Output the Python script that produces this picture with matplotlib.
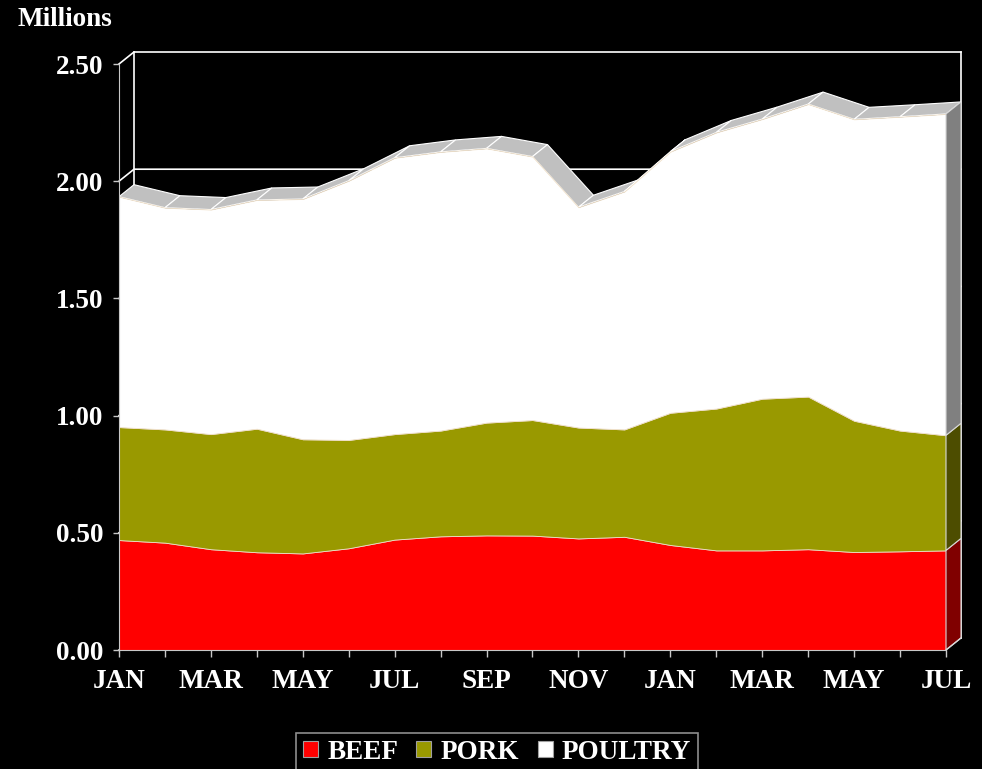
import matplotlib
matplotlib.use("Agg")
import matplotlib.pyplot as plt
from matplotlib.patches import Polygon, Patch
import numpy as np

months = ["JAN", "FEB", "MAR", "APR", "MAY", "JUN", "JUL", "AUG", "SEP", "OCT",
          "NOV", "DEC", "JAN", "FEB", "MAR", "APR", "MAY", "JUN", "JUL"]
beef = [0.469, 0.458, 0.430, 0.417, 0.412, 0.434, 0.471, 0.485, 0.489, 0.488,
        0.476, 0.483, 0.448, 0.425, 0.425, 0.430, 0.418, 0.421, 0.425]
pork_top = [0.951, 0.941, 0.921, 0.944, 0.899, 0.896, 0.921, 0.936, 0.970, 0.981,
            0.949, 0.941, 1.012, 1.030, 1.072, 1.081, 0.978, 0.936, 0.916]
poultry_top = [1.934, 1.887, 1.879, 1.920, 1.924, 2.002, 2.100, 2.125, 2.140, 2.105,
               1.889, 1.956, 2.126, 2.208, 2.265, 2.329, 2.264, 2.275, 2.287]
pork = [p - b for p, b in zip(pork_top, beef)]
poultry = [q - p for q, p in zip(poultry_top, pork_top)]
yticks = [0.0, 0.5, 1.0, 1.5, 2.0, 2.5]
series_names = ["BEEF", "PORK", "POULTRY"]
front_colors = ["#FF0000", "#999900", "#FFFFFF"]
side_colors = ["#800000", "#4D4D00", "#808080"]
top_color = "#C0C0C0"

plt.rcParams['font.family'] = ['Liberation Serif', 'DejaVu Serif']
plt.rcParams['font.weight'] = 'bold'

W, H = 982, 769
fig = plt.figure(figsize=(W / 100, H / 100), dpi=100, facecolor="black")
px_x = 45.944   # pixels per month
px_y = 234.4    # pixels per unit
left_px, bottom_px, right_px, top_px = 119, 650, 975, 40
ax = fig.add_axes([left_px / W, (H - bottom_px) / H,
                   (right_px - left_px) / W, (bottom_px - top_px) / H])
ax.set_facecolor("black")
ax.set_xlim(0, (right_px - left_px) / px_x)
ax.set_ylim(0, (bottom_px - top_px) / px_y)

dx = 15 / px_x
dy = 12 / px_y
x = np.arange(len(months))
n = len(months) - 1

# back wall gridlines and side gridlines
for v in yticks:
    ax.plot([0, dx, n + dx], [v, v + dy, v + dy], color="white", lw=1.2, zorder=1,
            clip_on=False)
ax.plot([dx, dx], [dy, 2.5 + dy], color="white", lw=1.2, zorder=1, clip_on=False)
ax.plot([n + dx, n + dx], [dy, 2.5 + dy], color="white", lw=1.2, zorder=1, clip_on=False)

# top faces of the upper series
top = np.array(poultry_top)
for i in range(n):
    poly = Polygon([[x[i], top[i]], [x[i + 1], top[i + 1]],
                    [x[i + 1] + dx, top[i + 1] + dy], [x[i] + dx, top[i] + dy]],
                   closed=True, facecolor=top_color, edgecolor="white", lw=0.8,
                   zorder=2)
    ax.add_patch(poly)

# front areas
ax.stackplot(x, beef, pork, poultry, colors=front_colors, zorder=3,
             edgecolor="#F0E0C8", linewidth=0.6)

# right side faces
levels = [0.0, beef[-1], pork_top[-1], poultry_top[-1]]
for k in range(3):
    lo, hi = levels[k], levels[k + 1]
    poly = Polygon([[n, lo], [n, hi], [n + dx, hi + dy], [n + dx, lo + dy]],
                   closed=True, facecolor=side_colors[k], edgecolor="#D8D8D8",
                   lw=0.8, zorder=4, clip_on=False)
    ax.add_patch(poly)
# floor edge at right
ax.plot([n, n + dx], [0, dy], color="#D8D8D8", lw=1, zorder=5, clip_on=False)

# axes / spines
for s in ["top", "right"]:
    ax.spines[s].set_visible(False)
ax.spines["left"].set_bounds(0, 2.5)
ax.spines["bottom"].set_bounds(0, n)
ax.spines["left"].set_color("#C8C8C8")
ax.spines["bottom"].set_color("#C8C8C8")
ax.spines["left"].set_zorder(6)
ax.spines["bottom"].set_zorder(6)

ax.set_yticks(yticks)
ax.set_yticklabels([f"{v:.2f}" for v in yticks])
ax.set_xticks(x)
ax.set_xticklabels([m if i % 2 == 0 else "" for i, m in enumerate(months)])
ax.tick_params(axis="y", colors="#C8C8C8", labelcolor="white", length=4.5,
               width=1, pad=6.7, labelsize=19.5)
ax.tick_params(axis="x", colors="#C8C8C8", labelcolor="white", length=5,
               width=1, pad=9, labelsize=19.5)
for lab in ax.get_xticklabels() + ax.get_yticklabels():
    lab.set_fontweight("bold")

fig.text(17 / W, 1 - 20 / H, "Millions", color="white", fontsize=19.5,
         fontweight="bold", ha="left", va="center")

handles = [Patch(facecolor=c, edgecolor="#A0A0A0", lw=0.8) for c in front_colors]
leg = fig.legend(handles, series_names, loc="lower center",
                 bbox_to_anchor=(497 / W, -0.021), ncol=3, frameon=True,
                 facecolor="black", edgecolor="#B0B0B0", fancybox=False,
                 handlelength=0.55, handleheight=0.55, handletextpad=0.35,
                 columnspacing=0.68, borderpad=0.25,
                 prop={"family": "Liberation Serif", "weight": "bold", "size": 19.5})
for t in leg.get_texts():
    t.set_color("white")
leg.get_frame().set_linewidth(1.2)

fig.savefig("out.png", dpi=100, facecolor="black")
